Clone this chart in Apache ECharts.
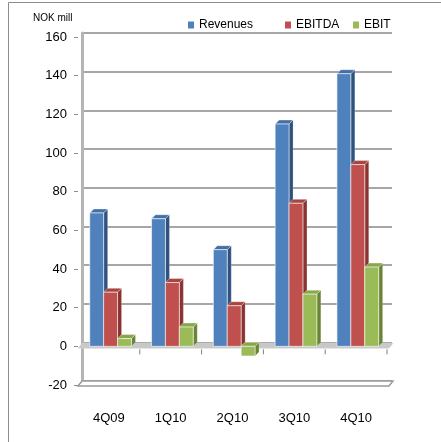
<!DOCTYPE html>
<html>
<head>
<meta charset="utf-8">
<script src="https://cdn.jsdelivr.net/npm/echarts@6/dist/echarts.min.js"></script>
<style>html,body{margin:0;padding:0;background:#fff}#c{width:441px;height:442px}</style>
</head>
<body>
<div id="c"></div>
<script>
var categories = ['4Q09', '1Q10', '2Q10', '3Q10', '4Q10'];
var revenues = [69, 66, 50, 115, 141];
var ebitda = [28, 33, 21, 74, 94];
var ebit = [4, 10, -5, 27, 41];
var seriesNames = ['Revenues', 'EBITDA', 'EBIT'];
var yTicks = { min: -20, max: 160, interval: 20 };

var FONT = 'Liberation Sans';
var palette = [
  { front: '#4F81BD', side: '#30527F', top: '#4470A8' },
  { front: '#C0504D', side: '#8A3331', top: '#A94441' },
  { front: '#9BBB59', side: '#6A8435', top: '#88A64A' }
];
var DEPTH = 4;

function makeRender(k) {
  var col = palette[k];
  return function (params, api) {
    var i = api.value(0), v = api.value(1);
    var c = api.coord([i, v]);
    var z = api.coord([i, 0]);
    var bw = api.size([1, 0])[0];
    var w = bw * 0.225;
    var x0 = c[0] - bw * 0.31 + k * w;
    var x1 = x0 + w;
    var yTop = Math.min(c[1], z[1]);
    var yBot = Math.max(c[1], z[1]);
    var d = DEPTH;
    return {
      type: 'group',
      children: [
        { type: 'polygon', shape: { points: [[x1, yTop], [x1 + d, yTop - d], [x1 + d, yBot - d], [x1, yBot]] },
          style: { fill: col.side, stroke: 'rgba(255,255,255,0.35)', lineWidth: 0.6 } },
        { type: 'polygon', shape: { points: [[x0, yTop], [x0 + d, yTop - d], [x1 + d, yTop - d], [x1, yTop]] },
          style: { fill: col.top, stroke: 'rgba(255,255,255,0.6)', lineWidth: 0.6 } },
        { type: 'rect', shape: { x: x0, y: yTop, width: w, height: yBot - yTop },
          style: { fill: col.front, stroke: 'rgba(255,255,255,0.75)', lineWidth: 0.8 } }
      ]
    };
  };
}

function renderDecor(params, api) {
  var cs = params.coordSys;
  var d = DEPTH;
  var y0 = api.coord([0, 0])[1];
  var ym = api.coord([0, yTicks.min])[1];
  var L = cs.x, R = cs.x + cs.width + 2;
  var bw = api.size([1, 0])[0];
  var kids = [
    { type: 'polygon', shape: { points: [[L, ym + 1], [L + d, ym - 4], [R + d, ym - 4], [R, ym + 1]] },
      style: { fill: '#ffffff', stroke: '#9A9A9A', lineWidth: 1.5 } },
    { type: 'polygon', shape: { points: [[L, y0 + 2], [L + d, y0 - 3], [R + d, y0 - 3], [R, y0 + 2]] },
      style: { fill: '#C8C8C8', stroke: '#D4D4D4', lineWidth: 0.5 } }
  ];
  for (var i = 0; i < categories.length; i++) {
    var x = api.coord([i, 0])[0] + bw / 2;
    kids.push({ type: 'line', shape: { x1: x, y1: y0 + 3, x2: x, y2: y0 + 8 },
      style: { stroke: '#7F7F7F', lineWidth: 1 } });
  }
  return { type: 'group', children: kids };
}

var chart = echarts.init(document.getElementById('c'), null, { renderer: 'canvas' });
var legendPos = [183, 280, 348];
chart.setOption({
  animation: false,
  backgroundColor: '#ffffff',
  title: { text: 'NOK mill', left: 28, top: 8, textStyle: { fontFamily: FONT, fontSize: 10, fontWeight: 'normal', color: '#000' } },
  legend: seriesNames.map(function (n, k) {
    return { data: [n], left: legendPos[k], top: 14, icon: 'rect', itemWidth: 6, itemHeight: 7, itemGap: 5,
      textStyle: { fontFamily: FONT, fontSize: 12, color: '#000' } };
  }),
  graphic: [{ type: 'rect', shape: { x: 8.5, y: 2.5, width: 440, height: 460 }, style: { fill: 'none', stroke: '#8C8C8C', lineWidth: 1 }, z: -10 }],
  grid: [
    { left: 78, right: 54, top: 37, bottom: 57 },
    { left: 82, right: 49, top: 33, bottom: 61 }
  ],
  xAxis: [
    { type: 'category', gridIndex: 0, data: categories, axisLine: { show: false }, axisTick: { show: false },
      axisLabel: { fontFamily: FONT, fontSize: 13, color: '#000', margin: 27 } },
    { type: 'category', gridIndex: 1, data: categories, show: false }
  ],
  yAxis: [
    { type: 'value', gridIndex: 0, min: yTicks.min, max: yTicks.max, interval: yTicks.interval,
      axisLine: { show: false }, axisTick: { show: true, length: 4, lineStyle: { color: '#8C8C8C' } },
      splitLine: { show: false },
      axisLabel: { fontFamily: FONT, fontSize: 13, color: '#000', margin: 11 } },
    { type: 'value', gridIndex: 1, min: yTicks.min, max: yTicks.max, interval: yTicks.interval,
      axisLine: { show: true, lineStyle: { color: '#B5B5B5', width: 3 } }, axisTick: { show: false },
      axisLabel: { show: false },
      splitLine: { show: true, lineStyle: { color: '#A6A6A6', width: 2 } } }
  ],
  series: [
    { type: 'custom', name: 'decor', xAxisIndex: 0, yAxisIndex: 0, data: [[0, 0]], renderItem: renderDecor, silent: true, z: 1 },
    { type: 'custom', name: seriesNames[0], xAxisIndex: 0, yAxisIndex: 0, itemStyle: { color: palette[0].front }, z: 2,
      data: revenues.map(function (v, i) { return [i, v]; }), renderItem: makeRender(0) },
    { type: 'custom', name: seriesNames[1], xAxisIndex: 0, yAxisIndex: 0, itemStyle: { color: palette[1].front }, z: 3,
      data: ebitda.map(function (v, i) { return [i, v]; }), renderItem: makeRender(1) },
    { type: 'custom', name: seriesNames[2], xAxisIndex: 0, yAxisIndex: 0, itemStyle: { color: palette[2].front }, z: 4,
      data: ebit.map(function (v, i) { return [i, v]; }), renderItem: makeRender(2) }
  ]
});
</script>
</body>
</html>
